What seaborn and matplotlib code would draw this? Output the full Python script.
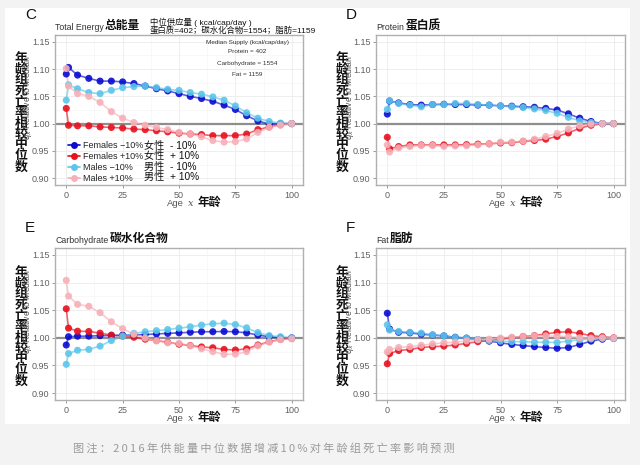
import matplotlib
matplotlib.use("Agg")
import matplotlib.pyplot as plt
from matplotlib.lines import Line2D
from matplotlib.patches import Rectangle
from matplotlib.ticker import MultipleLocator
import seaborn as sns
import pandas as pd

# ---- data ----
AGES = [0, 1, 5, 10, 15, 20, 25, 30, 35, 40, 45, 50, 55, 60, 65, 70, 75, 80, 85, 90, 95, 100]
SERIES = ["Females \u221210%", "Females +10%", "Males \u221210%", "Males +10%"]
SERIES_CN = ["女性  - 10%", "女性  + 10%", "男性  - 10%", "男性  + 10%"]
COLORS = ["#0a0ad2", "#e8101e", "#5cc6ea", "#f7b0b8"]

energy_f_minus = [1.091, 1.103, 1.089, 1.083, 1.078, 1.078, 1.0765, 1.0735, 1.069, 1.064, 1.060, 1.055,
                  1.050, 1.046, 1.041, 1.034, 1.026, 1.0145, 1.005, 0.999, 1.000, 1.000]
energy_f_plus = [1.028, 0.997, 0.996, 0.996, 0.994, 0.993, 0.992, 0.990, 0.989, 0.987, 0.985, 0.9825,
                 0.981, 0.980, 0.978, 0.978, 0.978, 0.981, 0.989, 0.994, 0.998, 1.000]
energy_m_minus = [1.043, 1.071, 1.064, 1.057, 1.055, 1.061, 1.066, 1.068, 1.069, 1.066, 1.063, 1.061,
                  1.057, 1.054, 1.049, 1.043, 1.0325, 1.020, 1.010, 1.004, 1.001, 1.000]
energy_m_plus = [1.101, 1.069, 1.055, 1.050, 1.039, 1.022, 1.010, 1.002, 0.997, 0.993, 0.989, 0.984,
                 0.981, 0.976, 0.969, 0.966, 0.967, 0.972, 0.984, 0.993, 0.997, 1.000]

protein_f_minus = [1.0175, 1.0415, 1.038, 1.035, 1.034, 1.035, 1.0355, 1.035, 1.035, 1.034, 1.034, 1.0325,
                   1.032, 1.031, 1.030, 1.028, 1.025, 1.018, 1.010, 1.004, 1.000, 1.000]
protein_f_plus = [0.975, 0.954, 0.958, 0.961, 0.961, 0.961, 0.961, 0.961, 0.9615, 0.9625, 0.963, 0.9645,
                  0.965, 0.9675, 0.969, 0.9715, 0.9765, 0.983, 0.9915, 0.997, 1.000, 1.000]
protein_m_minus = [1.026, 1.042, 1.037, 1.034, 1.031, 1.035, 1.035, 1.037, 1.037, 1.035, 1.034, 1.0325,
                   1.031, 1.0295, 1.027, 1.024, 1.019, 1.0115, 1.005, 1.002, 1.000, 1.000]
protein_m_plus = [0.961, 0.948, 0.9555, 0.958, 0.960, 0.960, 0.958, 0.959, 0.9595, 0.961, 0.963, 0.966,
                  0.966, 0.968, 0.9715, 0.9765, 0.982, 0.990, 0.996, 0.999, 1.000, 1.000]

carb_f_minus = [0.987, 1.002, 1.003, 1.003, 1.004, 1.004, 1.005, 1.005, 1.006, 1.007, 1.008, 1.009,
                1.010, 1.011, 1.011, 1.0115, 1.011, 1.009, 1.005, 1.002, 1.000, 1.000]
carb_f_plus = [1.0525, 1.0175, 1.012, 1.0115, 1.0085, 1.005, 1.003, 1.001, 0.9975, 0.995, 0.992, 0.9885,
               0.986, 0.9835, 0.982, 0.979, 0.978, 0.980, 0.987, 0.993, 0.997, 0.999]
carb_m_minus = [0.952, 0.9715, 0.9775, 0.979, 0.985, 0.995, 1.003, 1.008, 1.011, 1.013, 1.015, 1.0175,
                1.020, 1.023, 1.0255, 1.0265, 1.024, 1.018, 1.0095, 1.004, 1.002, 1.000]
carb_m_plus = [1.104, 1.0755, 1.0605, 1.057, 1.0455, 1.029, 1.0165, 1.0065, 0.9995, 0.9945, 0.991, 0.990,
               0.9855, 0.980, 0.975, 0.970, 0.9705, 0.975, 0.9855, 0.9925, 0.9965, 0.998]

fat_f_minus = [1.0445, 1.016, 1.010, 1.009, 1.0065, 1.005, 1.0035, 1.001, 0.9995, 0.9965, 0.994, 0.991,
               0.988, 0.986, 0.984, 0.9825, 0.981, 0.9825, 0.988, 0.994, 0.9975, 0.999]
fat_f_plus = [0.953, 0.9715, 0.977, 0.979, 0.9825, 0.984, 0.985, 0.987, 0.990, 0.993, 0.995, 0.9975,
              1.000, 1.0025, 1.004, 1.007, 1.010, 1.011, 1.008, 1.004, 1.002, 1.000]
fat_m_minus = [1.0235, 1.014, 1.0115, 1.010, 1.0085, 1.0055, 1.0035, 1.0005, 0.9995, 0.997, 0.995, 0.994,
               0.993, 0.993, 0.992, 0.992, 0.9915, 0.994, 0.9965, 0.998, 0.999, 0.999]
fat_m_plus = [0.9745, 0.979, 0.9825, 0.984, 0.9865, 0.989, 0.991, 0.992, 0.9945, 0.9965, 0.9975, 0.9995,
              1.001, 1.0025, 1.0035, 1.0035, 1.003, 1.002, 1.000, 0.9995, 1.000, 0.9995]

PANELS = [
    ("C", "Total Energy", "总能量", [energy_f_minus, energy_f_plus, energy_m_minus, energy_m_plus]),
    ("D", "Protein", "蛋白质", [protein_f_minus, protein_f_plus, protein_m_minus, protein_m_plus]),
    ("E", "Carbohydrate", "碳水化合物", [carb_f_minus, carb_f_plus, carb_m_minus, carb_m_plus]),
    ("F", "Fat", "脂肪", [fat_f_minus, fat_f_plus, fat_m_minus, fat_m_plus]),
]
CAPTION = "图注：2016年供能量中位数据增减10%对年龄组死亡率影响预测"

# axes rectangles in pixels: left, top, right, bottom
W, H = 640, 465
RECTS = [(55, 35, 303, 185), (376, 35, 625, 185), (55, 248, 303, 400), (376, 248, 625, 400)]

sns.set_theme(style="white")
FONTS = ["Liberation Sans", "Noto Sans CJK SC", "DejaVu Sans"]
plt.rcParams["font.family"] = FONTS

fig = plt.figure(figsize=(W / 100, H / 100), dpi=100)
fig.patch.set_facecolor("#f3f3f3")
fig.patches.append(Rectangle((5 / W, 1 - 424 / H), 625 / W, 416 / H, transform=fig.transFigure,
                             facecolor="white", edgecolor="none", zorder=-5))

for (letter, title_en, title_cn, vals), (l, t, r, b) in zip(PANELS, RECTS):
    ax = fig.add_axes([l / W, 1 - b / H, (r - l) / W, (b - t) / H])
    df = pd.DataFrame({
        "age": AGES * 4,
        "value": [v for s in vals for v in s],
        "series": [name for name in SERIES for _ in AGES],
    })
    pal = dict(zip(SERIES, COLORS))
    ax.axhline(1.0, color="#8e8e8e", lw=1.6, zorder=1.5)
    sns.lineplot(data=df, x="age", y="value", hue="series", palette=pal, hue_order=SERIES,
                 lw=1.2, alpha=0.65, legend=False, ax=ax, zorder=2)
    sns.scatterplot(data=df, x="age", y="value", hue="series", palette=pal, hue_order=SERIES,
                    s=26, alpha=0.9, linewidth=0, legend=False, ax=ax, zorder=3)

    ax.set_xlim(-5, 105)
    ax.set_ylim(0.8875, 1.1625)
    ax.set_xticks([0, 25, 50, 75, 100])
    ax.set_yticks([0.90, 0.95, 1.00, 1.05, 1.10, 1.15])
    ax.set_yticklabels([f"{v:.2f}" for v in ax.get_yticks()])
    ax.xaxis.set_minor_locator(MultipleLocator(12.5))
    ax.yaxis.set_minor_locator(MultipleLocator(0.025))
    ax.grid(True, which="major", color="#ebebeb", lw=0.6)
    ax.grid(True, which="minor", color="#f4f4f4", lw=0.4)
    ax.set_axisbelow(True)
    for sp in ax.spines.values():
        sp.set_color("#b0b0b0")
        sp.set_linewidth(1.0)
    ax.tick_params(axis="both", which="major", length=2.5, width=0.6, color="#8a8a8a",
                   labelsize=6.5, labelcolor="#606060", pad=1.5, bottom=True, left=True)
    ax.tick_params(which="minor", length=0)
    ax.set_xlabel("")
    ax.set_ylabel("")

    h = b - t
    # panel letter and title
    ax.text(-30 / (r - l), 1 + 13 / h, letter, transform=ax.transAxes, fontsize=11, color="#111",
            va="bottom", ha="left")
    t1 = ax.text(0.0, 1 + 3 / h, title_en, transform=ax.transAxes, fontsize=6.3, color="#333",
                 va="bottom", ha="left")
    ax.annotate(title_cn, xy=(1, 0), xycoords=t1, xytext=(1, -0.3), textcoords="offset points",
                fontsize=8.5, fontweight="bold", color="#111", va="bottom", ha="left")

    # y label: stacked chinese + rotated english
    ax.text(-34 / (r - l), 0.48, "\n".join("年龄组死亡率相较中位数"), transform=ax.transAxes,
            fontsize=9.3, fontweight="bold", linespacing=0.86, ha="center", va="center", color="#111")
    ax.text(-27 / (r - l), 0.58, r"$q_x$ Relative to Median", transform=ax.transAxes,
            fontsize=6.2, rotation=90, ha="center", va="center", color="#555")

    # x label
    a1 = ax.text(0.452, -23 / h, "Age", transform=ax.transAxes, fontsize=6.8, color="#555",
                 va="bottom", ha="left")
    a2 = ax.annotate("x", xy=(1, 0), xycoords=a1, xytext=(3, 0), textcoords="offset points",
                     fontsize=7, style="italic", color="#555", va="bottom", ha="left",
                     family="DejaVu Serif")
    ax.annotate("年龄", xy=(1, 0), xycoords=a2, xytext=(3, -0.5), textcoords="offset points",
                fontsize=8.5, fontweight="bold", color="#111", va="bottom", ha="left")

    if letter == "C":
        ax.text(95 / (r - l), 1 + 13 / h, "中位供应量 ( kcal/cap/day )", transform=ax.transAxes,
                fontsize=6, color="#111", va="center", ha="left")
        ax.text(95 / (r - l), 1 + 4 / h, "蛋白质=402；碳水化合物=1554；脂肪=1159",
                transform=ax.transAxes, fontsize=6, color="#111", va="center", ha="left")
        for txt, yy in zip(["Median Supply (kcal/cap/day)", "Protein = 402",
                            "Carbohydrate = 1554", "Fat = 1159"], [0.953, 0.887, 0.813, 0.74]):
            ax.text(0.775, yy, txt, transform=ax.transAxes, fontsize=4.6, color="#333",
                    ha="center", va="center")
        handles = [Line2D([], [], color=c, marker="o", markersize=5, markeredgewidth=0, lw=1.2)
                   for c in COLORS]
        ax.legend(handles, SERIES, loc="lower left", bbox_to_anchor=(0.03, -0.022), frameon=False,
                  fontsize=6.5, handlelength=1.3, handletextpad=0.4, labelspacing=0.2,
                  borderpad=0.1)
        for txt, yy in zip(SERIES_CN, [0.26, 0.193, 0.122, 0.053]):
            ax.text(0.358, yy, txt, transform=ax.transAxes, fontsize=7.3, color="#111",
                    ha="left", va="center")

# letter-spaced caption
fig.text(264 / W, 1 - 448 / H, "\u2009".join(CAPTION),
         fontsize=8, color="#9a9a9a", ha="center", va="center",
         family=["Noto Sans CJK SC", "DejaVu Sans"])

fig.savefig("out.png", dpi=100, facecolor=fig.get_facecolor())
